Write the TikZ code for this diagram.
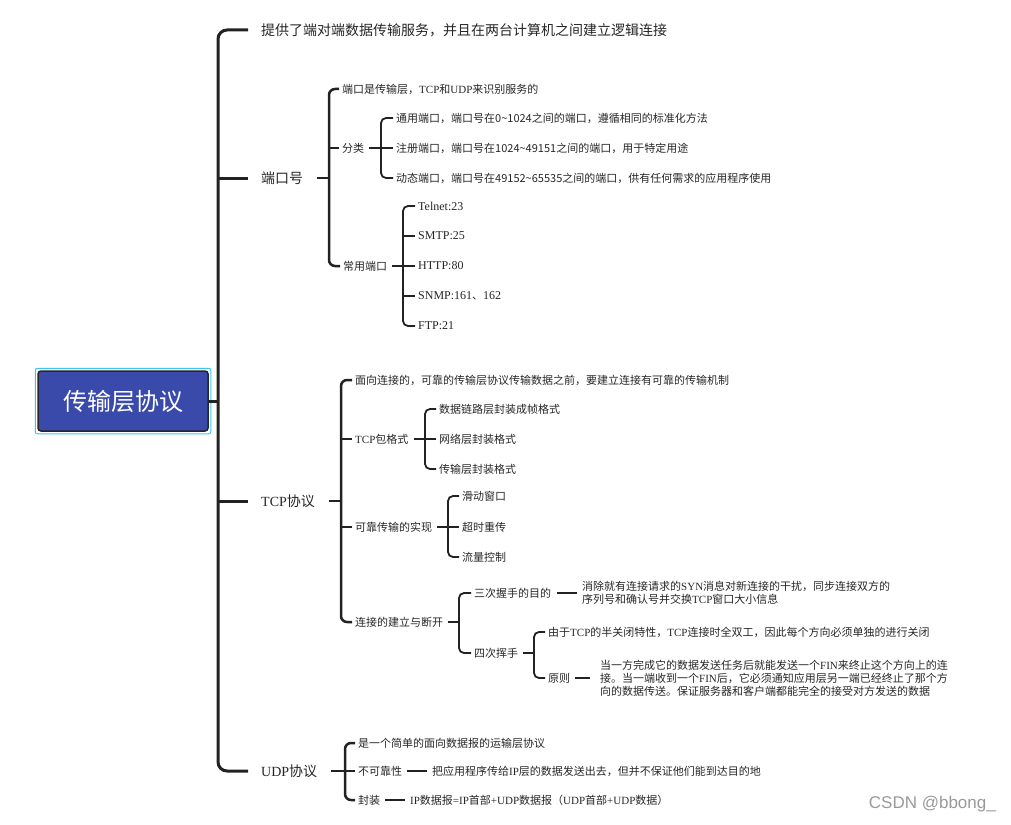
\documentclass[tikz,border=0pt]{standalone}
\usepackage{fontspec}
\setmainfont{Liberation Serif}
\newfontfamily\cjk{Noto Sans CJK SC}
\newfontfamily\srf{Liberation Serif}
\newfontfamily\wmf{Liberation Sans}
\newcommand\sr[1]{{\srf #1}}
\definecolor{ln}{HTML}{222222}
\definecolor{rootblue}{HTML}{3A4AAB}
\definecolor{rootcyan}{HTML}{3EC3F2}
\begin{document}
\begin{tikzpicture}[x=1pt,y=-1pt,
  t1/.style={anchor=west,inner sep=0pt,font=\cjk\fontsize{14}{16}\selectfont,text=black!85},
  t/.style={anchor=west,inner sep=0pt,font=\cjk\fontsize{11}{13}\selectfont,text=black!85,align=left},
  l1/.style={draw=ln,line width=3pt},
  l2/.style={draw=ln,line width=2.5pt},
  l3/.style={draw=ln,line width=1.8pt},
  l4/.style={draw=ln,line width=1.4pt},
  root/.style={draw=black!85,fill=rootblue,rounded corners=3pt,line width=1.5pt,
    minimum width=170,minimum height=60,text=white,inner sep=0pt,
    font=\cjk\fontsize{24}{26}\selectfont}
]
\useasboundingbox (0,0) rectangle (1011,824);

% root
\node[root] (root) at (123,401) {传输层协议};
\draw[rootcyan,line width=1pt,rounded corners=2pt] ([shift={(-2,2)}]root.south west) rectangle ([shift={(2,-2)}]root.north east);

% level 1
\node[t1] (a1) at (261,30) {提供了端对端数据传输服务，并且在两台计算机之间建立逻辑连接};
\node[t1] (a2) at (261,178) {端口号};
\node[t1] (a3) at (261,501) {\sr{TCP}协议};
\node[t1] (a4) at (261,771) {\sr{UDP}协议};
\coordinate (T) at (218,0);
\draw[l1] (root.east) -- (T |- root.east);
\draw[l1,rounded corners=9pt] ([xshift=-13]a1.west) -| (T |- a4.west) -- ([xshift=-13]a4.west);
\draw[l1] (T |- a2.west) -- ([xshift=-13]a2.west);
\draw[l1] (T |- a3.west) -- ([xshift=-13]a3.west);

% port group
\coordinate (B1) at (329,0);
\node[t] (b1) at (342,89) {端口是传输层，\sr{TCP}和\sr{UDP}来识别服务的};
\node[t] (b2) at (342,148) {分类};
\node[t] (b3) at (343,266) {常用端口};
\draw[l2] ([xshift=14]a2.east) -- (B1 |- a2.east);
\draw[l2,rounded corners=6pt] ([xshift=-3]b1.west) -| (B1 |- b3.west) -- ([xshift=-3]b3.west);
\draw[l2] (B1 |- b2.west) -- ([xshift=-3]b2.west);

% classification
\coordinate (B2) at (381,0);
\node[t] (c1) at (396,118) {通用端口，端口号在0\textasciitilde1024之间的端口，遵循相同的标准化方法};
\node[t] (c2) at (396,148) {注册端口，端口号在1024\textasciitilde49151之间的端口，用于特定用途};
\node[t] (c3) at (396,178) {动态端口，端口号在49152\textasciitilde65535之间的端口，供有任何需求的应用程序使用};
\draw[l3] ([xshift=5]b2.east) -- (B2 |- b2.east);
\draw[l3,rounded corners=5pt] ([xshift=-3]c1.west) -| (B2 |- c3.west) -- ([xshift=-3]c3.west);
\draw[l3] (B2 |- c2.west) -- ([xshift=-3]c2.west);

% common ports
\coordinate (B3) at (403,0);
\node[t] (d1) at (418,206) {\sr{\fontsize{12}{13}\selectfont Telnet:23}};
\node[t] (d2) at (418,236) {\sr{\fontsize{12}{13}\selectfont SMTP:25}};
\node[t] (d3) at (418,266) {\sr{\fontsize{12}{13}\selectfont HTTP:80}};
\node[t] (d4) at (418,296) {\sr{\fontsize{12}{13}\selectfont SNMP:161}、\sr{\fontsize{12}{13}\selectfont 162}};
\node[t] (d5) at (418,326) {\sr{\fontsize{12}{13}\selectfont FTP:21}};
\draw[l3] ([xshift=5]b3.east) -- (B3 |- b3.east);
\draw[l3,rounded corners=5pt] ([xshift=-3]d1.west) -| (B3 |- d5.west) -- ([xshift=-3]d5.west);
\foreach \n in {d2,d3,d4} \draw[l3] (B3 |- \n.west) -- ([xshift=-3]\n.west);

% TCP group
\coordinate (B4) at (341,0);
\node[t] (e1) at (355,380) {面向连接的，可靠的传输层协议传输数据之前，要建立连接有可靠的传输机制};
\node[t] (e2) at (355,439) {\sr{TCP}包格式};
\node[t] (e3) at (355,527) {可靠传输的实现};
\node[t] (e4) at (355,622) {连接的建立与断开};
\draw[l2] ([xshift=14]a3.east) -- (B4 |- a3.east);
\draw[l2,rounded corners=6pt] ([xshift=-3]e1.west) -| (B4 |- e4.west) -- ([xshift=-3]e4.west);
\draw[l2] (B4 |- e2.west) -- ([xshift=-3]e2.west);
\draw[l2] (B4 |- e3.west) -- ([xshift=-3]e3.west);

% TCP packet format
\coordinate (B5) at (425,0);
\node[t] (f1) at (439,409) {数据链路层封装成帧格式};
\node[t] (f2) at (439,439) {网络层封装格式};
\node[t] (f3) at (439,469) {传输层封装格式};
\draw[l3] ([xshift=5]e2.east) -- (B5 |- e2.east);
\draw[l3,rounded corners=5pt] ([xshift=-3]f1.west) -| (B5 |- f3.west) -- ([xshift=-3]f3.west);
\draw[l3] (B5 |- f2.west) -- ([xshift=-3]f2.west);

% reliable transmission
\coordinate (B6) at (448,0);
\node[t] (g1) at (462,496) {滑动窗口};
\node[t] (g2) at (462,527) {超时重传};
\node[t] (g3) at (462,557) {流量控制};
\draw[l3] ([xshift=5]e3.east) -- (B6 |- e3.east);
\draw[l3,rounded corners=5pt] ([xshift=-3]g1.west) -| (B6 |- g3.west) -- ([xshift=-3]g3.west);
\draw[l3] (B6 |- g2.west) -- ([xshift=-3]g2.west);

% connection
\coordinate (B7) at (459,0);
\node[t] (h1) at (474,593) {三次握手的目的};
\node[t] (h2) at (474,653) {四次挥手};
\draw[l3] ([xshift=5]e4.east) -- (B7 |- e4.east);
\draw[l3,rounded corners=5pt] ([xshift=-3]h1.west) -| (B7 |- h2.west) -- ([xshift=-3]h2.west);

\node[t] (i1) at (582,593) {消除就有连接请求的\sr{SYN}消息对新连接的干扰，同步连接双方的\\序列号和确认号并交换\sr{TCP}窗口大小信息};
\draw[l4] ([xshift=6]h1.east) -- ([xshift=-5]i1.west);

% four-way
\coordinate (B8) at (534,0);
\node[t] (j1) at (548,632) {由于\sr{TCP}的半关闭特性，\sr{TCP}连接时全双工，因此每个方向必须单独的进行关闭};
\node[t] (j2) at (548,678) {原则};
\draw[l3] ([xshift=5]h2.east) -- (B8 |- h2.east);
\draw[l3,rounded corners=5pt] ([xshift=-3]j1.west) -| (B8 |- j2.west) -- ([xshift=-3]j2.west);
\node[t,font=\cjk\fontsize{11}{12.8}\selectfont] (k1) at (600,678) {当一方完成它的数据发送任务后就能发送一个\sr{FIN}来终止这个方向上的连\\接。当一端收到一个\sr{FIN}后，它必须通知应用层另一端已经终止了那个方\\向的数据传送。保证服务器和客户端都能完全的接受对方发送的数据};
\draw[l4] ([xshift=5]j2.east) -- ([xshift=-10]k1.west);

% UDP group
\coordinate (B9) at (345,0);
\node[t] (m1) at (358,743) {是一个简单的面向数据报的运输层协议};
\node[t] (m2) at (358,771) {不可靠性};
\node[t] (m3) at (358,800) {封装};
\draw[l2] ([xshift=14]a4.east) -- (B9 |- a4.east);
\draw[l2,rounded corners=6pt] ([xshift=-3]m1.west) -| (B9 |- m3.west) -- ([xshift=-3]m3.west);
\draw[l2] (B9 |- m2.west) -- ([xshift=-3]m2.west);
\node[t] (n1) at (432,771) {把应用程序传给\sr{IP}层的数据发送出去，但并不保证他们能到达目的地};
\node[t] (n2) at (410,800) {\sr{IP}数据报\sr{=IP}首部\sr{+UDP}数据报（\sr{UDP}首部\sr{+UDP}数据）};
\draw[l4] ([xshift=5]m2.east) -- ([xshift=-5]n1.west);
\draw[l4] ([xshift=5]m3.east) -- ([xshift=-5]n2.west);

% watermark
\node[anchor=east,inner sep=0pt,text=black!40,font=\wmf\fontsize{17}{17}\selectfont] (wm) at (996,804) {CSDN @bbong\_};
\end{tikzpicture}
\end{document}
